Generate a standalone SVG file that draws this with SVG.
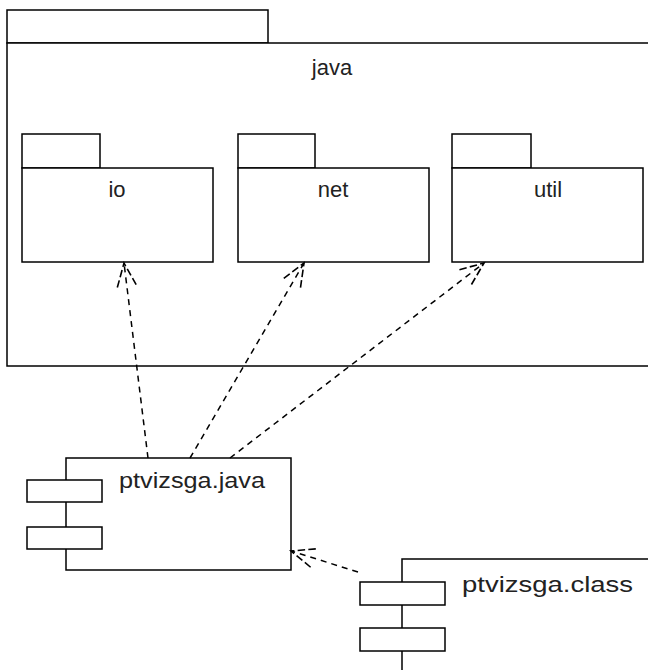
<svg xmlns="http://www.w3.org/2000/svg" width="648" height="670" viewBox="0 0 648 670">
<style>
.box{fill:#fff;stroke:#000;stroke-width:1.5}
.lbl{font-family:"Liberation Sans",Arial,sans-serif;font-size:22px;fill:#222}
.dep{fill:none;stroke:#000;stroke-width:1.5;stroke-dasharray:6,5}
</style>
<defs>
<marker id="open" markerUnits="userSpaceOnUse" markerWidth="30" markerHeight="30" viewBox="-26 -13 28 26" refX="0" refY="0" orient="auto">
<path d="M-22,-9 L0,0 L-22,9" fill="none" stroke="#000" stroke-width="1.5" stroke-dasharray="7,3"/>
</marker>
</defs>
<rect width="648" height="670" fill="#fff"/>
<g id="java">
<rect class="box" x="7" y="10" width="261" height="33"/>
<rect class="box" x="7" y="43" width="660" height="323"/>
<text class="lbl" x="332" y="75" text-anchor="middle">java</text>
</g>
<g id="io">
<rect class="box" x="22" y="134" width="78" height="34"/>
<rect class="box" x="22" y="168" width="191" height="94"/>
<text class="lbl" x="117" y="197" text-anchor="middle">io</text>
</g>
<g id="net">
<rect class="box" x="238" y="134" width="77" height="34"/>
<rect class="box" x="238" y="168" width="191" height="94"/>
<text class="lbl" x="333" y="197" text-anchor="middle">net</text>
</g>
<g id="util">
<rect class="box" x="452" y="134" width="79" height="34"/>
<rect class="box" x="452" y="168" width="191" height="94"/>
<text class="lbl" x="548" y="197" text-anchor="middle">util</text>
</g>
<g id="ptvizsga_java">
<rect class="box" x="66" y="458" width="225" height="112"/>
<rect class="box" x="27" y="480" width="75" height="22"/>
<rect class="box" x="27" y="527" width="75" height="22"/>
<text class="lbl" x="119" y="488" textLength="146" lengthAdjust="spacingAndGlyphs">ptvizsga.java</text>
</g>
<g id="ptvizsga_class">
<rect class="box" x="402" y="559" width="300" height="200"/>
<rect class="box" x="360" y="582" width="85" height="23"/>
<rect class="box" x="360" y="628" width="85" height="23"/>
<text class="lbl" x="462" y="592" textLength="171" lengthAdjust="spacingAndGlyphs">ptvizsga.class</text>
</g>
<g id="connectors">
<path class="dep" d="M148,458 L124,263" marker-end="url(#open)"/>
<path class="dep" d="M190,458 L304,263" marker-end="url(#open)"/>
<path class="dep" d="M230,458 L484,263" marker-end="url(#open)"/>
<path class="dep" d="M358,572 L291,551" marker-end="url(#open)"/>
</g>
</svg>
